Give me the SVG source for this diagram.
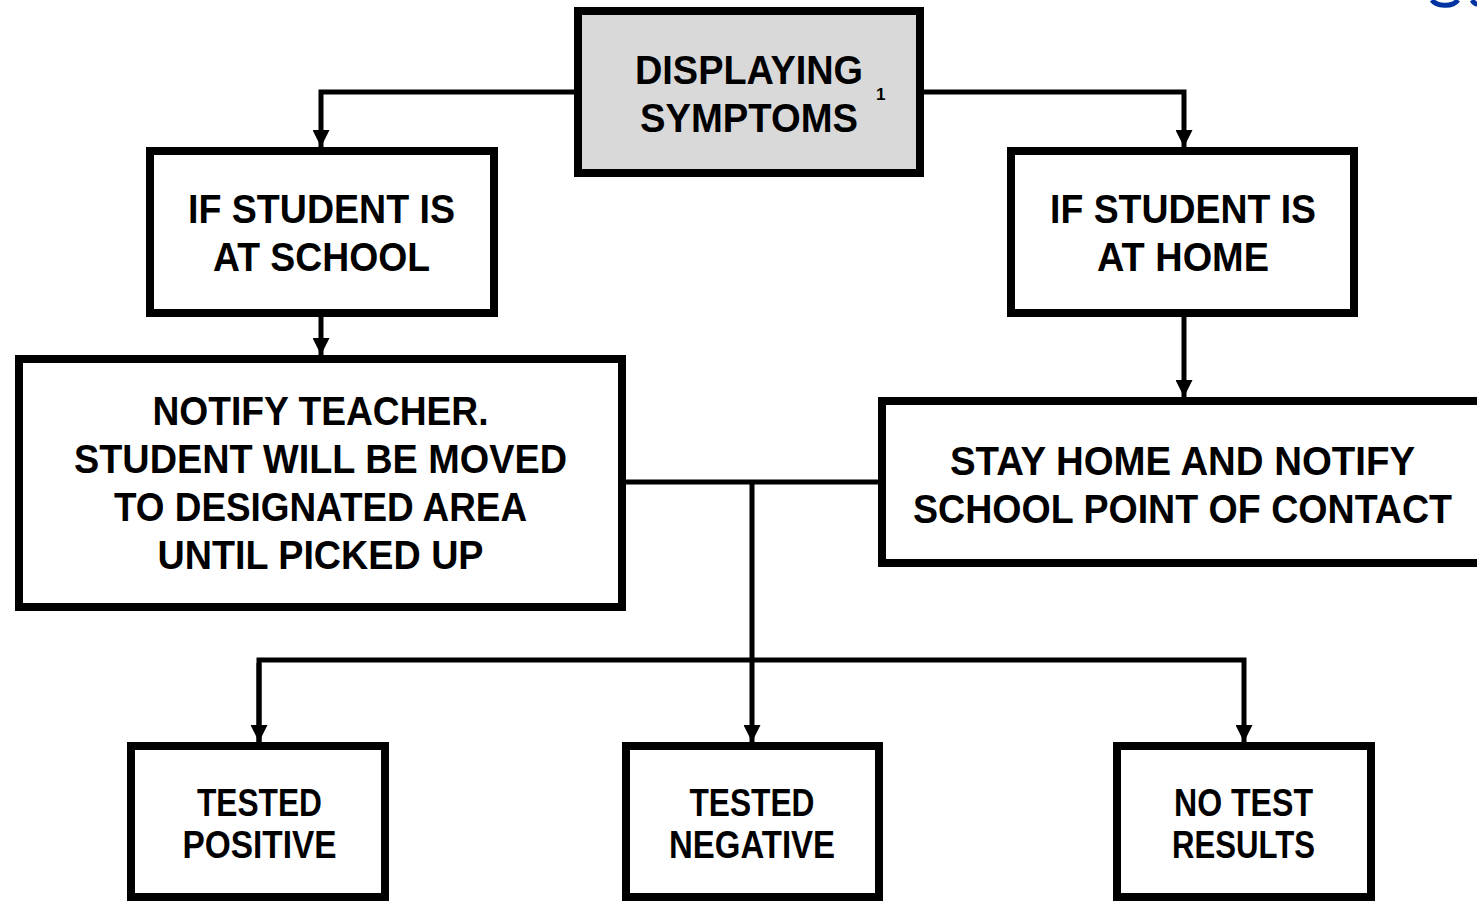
<svg xmlns="http://www.w3.org/2000/svg" width="1477" height="901" viewBox="0 0 1477 901">
<style>
.box{fill:#ffffff;stroke:#000000;stroke-width:8}
.gray{fill:#d9d9d9}
.t{font-family:"Liberation Sans",Arial,sans-serif;font-weight:bold;font-size:41px;fill:#000000;text-anchor:middle}
.s{font-size:38px}
.sup{font-family:"Liberation Sans",Arial,sans-serif;font-weight:bold;font-size:17px;fill:#000000}
.c{fill:none;stroke:#000000;stroke-width:5}
</style>
<defs>
<marker id="arr" markerUnits="userSpaceOnUse" markerWidth="17" markerHeight="17" viewBox="0 0 17 17" refX="17" refY="8.5" orient="auto">
<path d="M0,0 L17,8.5 L0,17 z" fill="#000000"/>
</marker>
</defs>
<rect width="1477" height="901" fill="#ffffff"/>
<path d="M1432,0 C1436,6 1452,8 1458,0" fill="none" stroke="#0033a1" stroke-width="5"/>
<path d="M1472,0 C1474,3 1476,4 1477,4" fill="none" stroke="#0033a1" stroke-width="5"/>
<g id="connectors">
<path class="c" d="M576,92 H321 V147" marker-end="url(#arr)"/>
<path class="c" d="M922,92 H1184 V147" marker-end="url(#arr)"/>
<path class="c" d="M321,316 V355" marker-end="url(#arr)"/>
<path class="c" d="M1184,316 V397" marker-end="url(#arr)"/>
<path class="c" d="M624,482 H880"/>
<path class="c" d="M752,482 V742" marker-end="url(#arr)"/>
<path class="c" d="M259,742 V660 H1244 V742" marker-end="url(#arr)"/>
<path class="c" d="M259,663 V742" marker-end="url(#arr)"/>
</g>
<g id="node-symptoms">
<rect class="box gray" x="578" y="11" width="342" height="162"/>
<text class="t" x="749" y="84" textLength="228" lengthAdjust="spacingAndGlyphs">DISPLAYING</text>
<text class="t" x="749" y="132" textLength="218" lengthAdjust="spacingAndGlyphs">SYMPTOMS</text>
<text class="sup" x="876" y="100">1</text>
</g>
<g id="node-school">
<rect class="box" x="150" y="151" width="344" height="162"/>
<text class="t" x="321.5" y="223" textLength="267" lengthAdjust="spacingAndGlyphs">IF STUDENT IS</text>
<text class="t" x="321.5" y="271" textLength="217" lengthAdjust="spacingAndGlyphs">AT SCHOOL</text>
</g>
<g id="node-home">
<rect class="box" x="1011" y="151" width="343" height="162"/>
<text class="t" x="1183" y="223" textLength="266" lengthAdjust="spacingAndGlyphs">IF STUDENT IS</text>
<text class="t" x="1183" y="271" textLength="172" lengthAdjust="spacingAndGlyphs">AT HOME</text>
</g>
<g id="node-notify-teacher">
<rect class="box" x="19" y="359" width="603" height="248"/>
<text class="t" x="320.5" y="425" textLength="336" lengthAdjust="spacingAndGlyphs">NOTIFY TEACHER.</text>
<text class="t" x="320.5" y="473" textLength="493" lengthAdjust="spacingAndGlyphs">STUDENT WILL BE MOVED</text>
<text class="t" x="320.5" y="521" textLength="413" lengthAdjust="spacingAndGlyphs">TO DESIGNATED AREA</text>
<text class="t" x="320.5" y="569" textLength="326" lengthAdjust="spacingAndGlyphs">UNTIL PICKED UP</text>
</g>
<g id="node-stay-home">
<rect class="box" x="882" y="401" width="600" height="162"/>
<text class="t" x="1182.5" y="475" textLength="465" lengthAdjust="spacingAndGlyphs">STAY HOME AND NOTIFY</text>
<text class="t" x="1182.5" y="523" textLength="539" lengthAdjust="spacingAndGlyphs">SCHOOL POINT OF CONTACT</text>
</g>
<g id="node-positive">
<rect class="box" x="131" y="746" width="254" height="151"/>
<text class="t s" x="259.5" y="816" textLength="125" lengthAdjust="spacingAndGlyphs">TESTED</text>
<text class="t s" x="259.5" y="858" textLength="154" lengthAdjust="spacingAndGlyphs">POSITIVE</text>
</g>
<g id="node-negative">
<rect class="box" x="626" y="746" width="253" height="151"/>
<text class="t s" x="752" y="816" textLength="125" lengthAdjust="spacingAndGlyphs">TESTED</text>
<text class="t s" x="752" y="858" textLength="166" lengthAdjust="spacingAndGlyphs">NEGATIVE</text>
</g>
<g id="node-no-results">
<rect class="box" x="1117" y="746" width="254" height="151"/>
<text class="t s" x="1243.5" y="816" textLength="139" lengthAdjust="spacingAndGlyphs">NO TEST</text>
<text class="t s" x="1243.5" y="858" textLength="143" lengthAdjust="spacingAndGlyphs">RESULTS</text>
</g>
</svg>
